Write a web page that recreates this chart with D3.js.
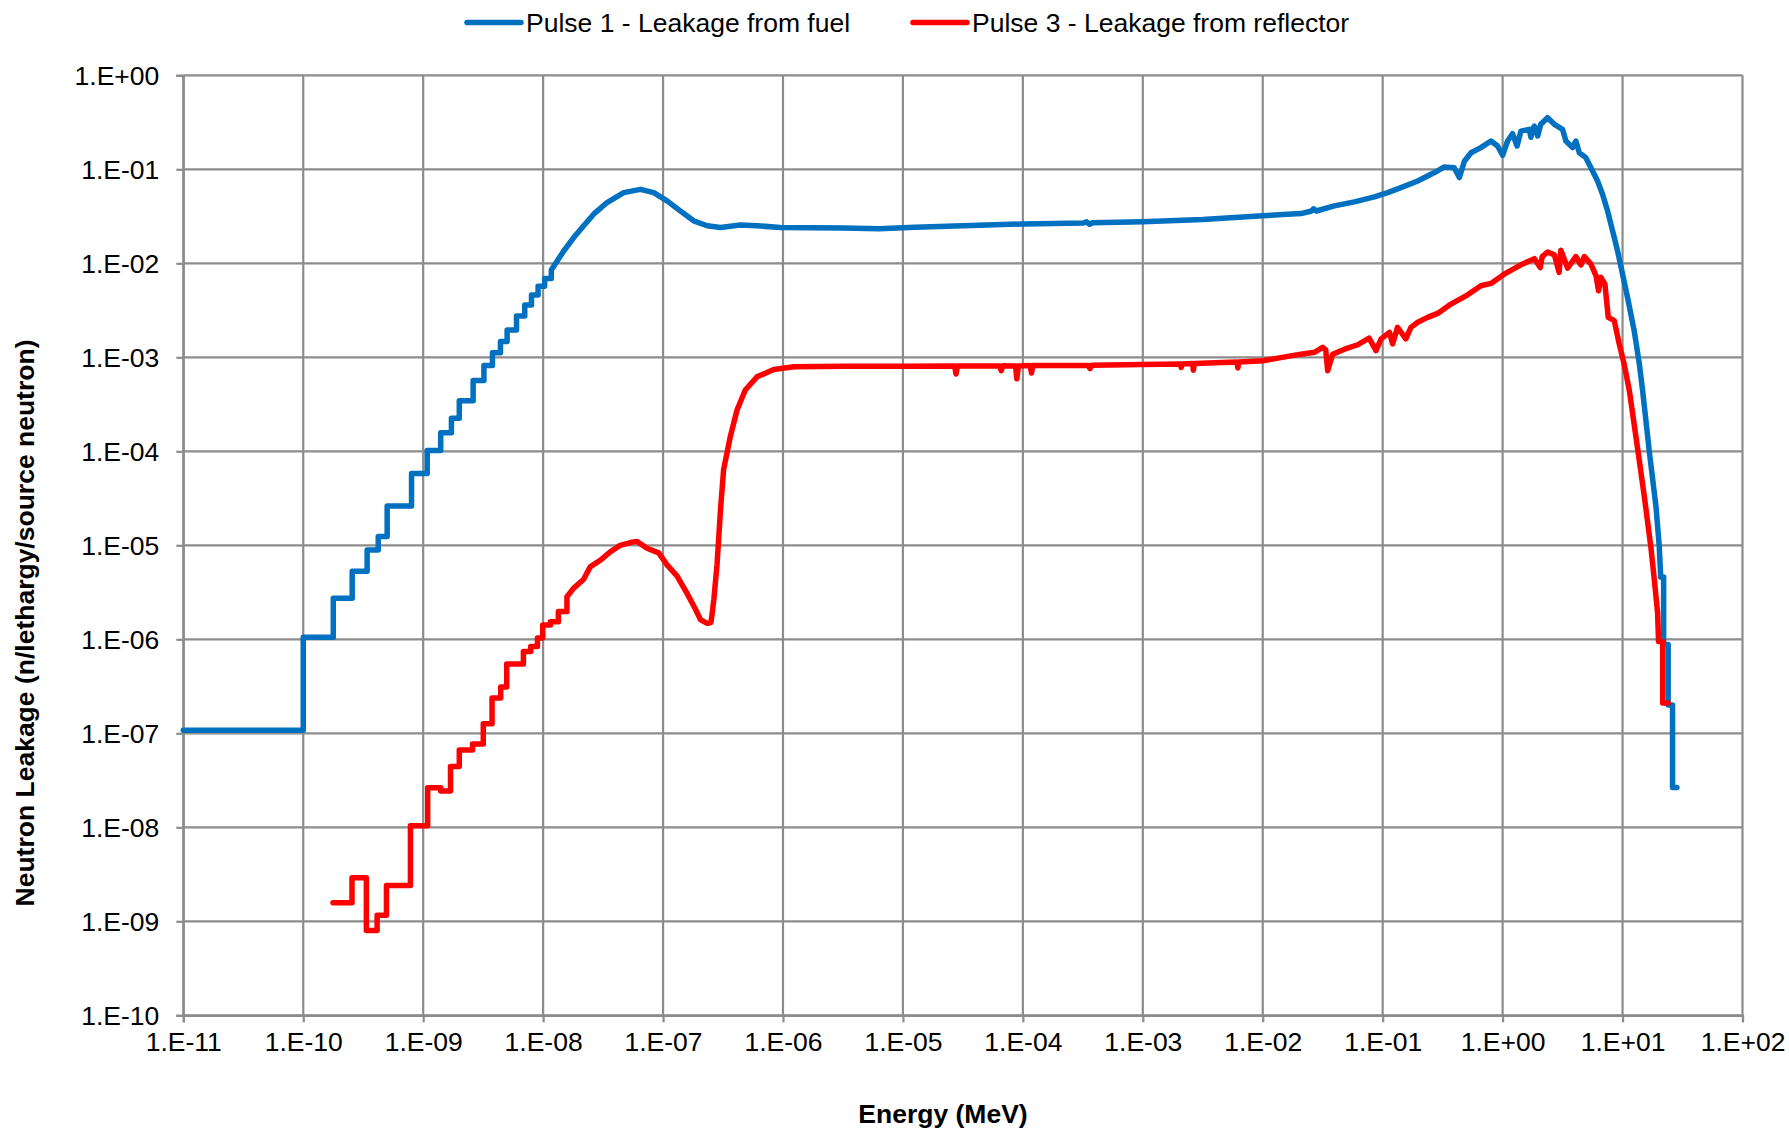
<!DOCTYPE html>
<html>
<head>
<meta charset="utf-8">
<script src="https://cdn.jsdelivr.net/npm/d3@7"></script>
<style>
    body { margin: 0; background: white; }
    text { font-family: "Liberation Sans", Arial, sans-serif; }
</style>
</head>
<body>
<div id="chart"></div>
<script>

// axis ticks
const energyTicks = [1e-11, 1e-10, 1e-9, 1e-8, 1e-7, 1e-6, 1e-5, 1e-4, 1e-3, 1e-2, 1e-1, 1e0, 1e1, 1e2];
const energyTickLabels = ["1.E-11", "1.E-10", "1.E-09", "1.E-08", "1.E-07", "1.E-06", "1.E-05", "1.E-04", "1.E-03", "1.E-02", "1.E-01", "1.E+00", "1.E+01", "1.E+02"];
const leakageTicks = [1e-10, 1e-9, 1e-8, 1e-7, 1e-6, 1e-5, 1e-4, 1e-3, 1e-2, 1e-1, 1e0];
const leakageTickLabels = ["1.E-10", "1.E-09", "1.E-08", "1.E-07", "1.E-06", "1.E-05", "1.E-04", "1.E-03", "1.E-02", "1.E-01", "1.E+00"];

const seriesNames = ["Pulse 1 - Leakage from fuel", "Pulse 3 - Leakage from reflector"];

// Pulse 1 - low energy histogram bins (edges + values)
const pulse1StepEdges = [1e-11, 1e-10, 1.78e-10, 2.56e-10, 3.41e-10, 4.22e-10, 5.01e-10, 8.0e-10, 1.08e-9, 1.40e-9, 1.72e-9, 2.0e-9, 2.61e-9, 3.21e-9, 3.78e-9, 4.41e-9, 5.01e-9, 6.0e-9, 7.03e-9, 8.0e-9, 9.08e-9, 1.03e-8, 1.17e-8];
const pulse1StepValues = [1.08e-7, 1.05e-6, 2.73e-6, 5.3e-6, 8.9e-6, 1.24e-5, 2.62e-5, 5.8e-5, 1.02e-4, 1.58e-4, 2.25e-4, 3.46e-4, 5.65e-4, 8.2e-4, 1.12e-3, 1.47e-3, 1.95e-3, 2.75e-3, 3.6e-3, 4.6e-3, 5.7e-3, 6.9e-3];

// Pulse 1 - fine bins [energy, leakage]
const pulse1Curve = [
    [1.17e-8, 8.5e-3], [1.49e-8, 1.36e-2], [1.80e-8, 1.88e-2], [2.18e-8, 2.51e-2], [2.64e-8, 3.33e-2],
    [3.41e-8, 4.43e-2], [4.70e-8, 5.65e-2], [6.47e-8, 6.12e-2], [8.36e-8, 5.65e-2], [1.08e-7, 4.61e-2],
    [1.39e-7, 3.61e-2], [1.80e-7, 2.83e-2], [2.33e-7, 2.51e-2], [3.01e-7, 2.40e-2], [4.41e-7, 2.55e-2],
    [6.07e-7, 2.51e-2], [9.5e-7, 2.40e-2], [3.16e-6, 2.37e-2], [6.3e-6, 2.33e-2], [1.26e-5, 2.42e-2],
    [3.16e-5, 2.51e-2], [1e-4, 2.62e-2], [3.2e-4, 2.69e-2], [3.4e-4, 2.76e-2], [3.6e-4, 2.6e-2],
    [3.8e-4, 2.7e-2], [1e-3, 2.77e-2], [3.16e-3, 2.92e-2], [1e-2, 3.21e-2], [2.08e-2, 3.38e-2],
    [2.55e-2, 3.6e-2], [2.65e-2, 3.8e-2], [2.8e-2, 3.6e-2], [3.95e-2, 4.08e-2], [5.81e-2, 4.50e-2],
    [8.53e-2, 5.08e-2], [0.110, 5.65e-2], [0.142, 6.38e-2], [0.196, 7.52e-2], [0.270, 9.23e-2],
    [0.327, 0.106], [0.395, 0.104], [0.436, 0.0817], [0.480, 0.122], [0.545, 0.150],
    [0.659, 0.170], [0.80, 0.20], [0.908, 0.177], [1.0, 0.141], [1.10, 0.20],
    [1.21, 0.239], [1.32, 0.177], [1.42, 0.255], [1.67, 0.266], [1.72, 0.219],
    [1.78, 0.266], [1.84, 0.288], [1.96, 0.226], [2.08, 0.301], [2.37, 0.354],
    [2.70, 0.301], [3.16, 0.266], [3.37, 0.20], [3.83, 0.170], [4.08, 0.20],
    [4.36, 0.150], [4.94, 0.133], [5.45, 0.104], [6.19, 0.0752], [6.81, 0.0543],
    [7.50, 0.0361], [8.26, 0.0221], [9.08, 0.0136], [10.0, 7.67e-3], [11.0, 4.34e-3],
    [12.5, 1.92e-3], [13.8, 8.5e-4], [14.7, 4.43e-4], [16.7, 1e-4], [19.0, 2.57e-5],
    [20.2, 1e-5]
];
const pulse1TailEdges = [20.8, 22.0, 24.0, 26.1, 28.4];
const pulse1TailValues = [4.6e-6, 8.8e-7, 2.0e-7, 2.65e-8];

// Pulse 3 - low energy histogram bins
const pulse3StepEdges = [1.77e-10, 2.55e-10, 3.36e-10, 4.13e-10, 4.94e-10, 7.83e-10, 1.09e-9, 1.40e-9, 1.69e-9, 2.0e-9, 2.58e-9, 3.17e-9, 3.75e-9, 4.43e-9, 4.97e-9, 6.85e-9, 7.89e-9, 8.97e-9, 9.93e-9, 1.15e-8, 1.34e-8, 1.58e-8];
const pulse3StepValues = [1.58e-9, 2.9e-9, 8.0e-10, 1.16e-9, 2.41e-9, 1.04e-8, 2.63e-8, 2.43e-8, 4.43e-8, 6.64e-8, 7.7e-8, 1.26e-7, 2.37e-7, 3.1e-7, 5.45e-7, 7.4e-7, 8.4e-7, 1.03e-6, 1.42e-6, 1.54e-6, 1.97e-6];

// Pulse 3 - fine bins [energy, leakage]
const pulse3Curve = [
    [1.58e-8, 2.84e-6], [1.79e-8, 3.48e-6], [2.17e-8, 4.33e-6], [2.47e-8, 5.89e-6], [2.99e-8, 6.93e-6],
    [3.63e-8, 8.51e-6], [4.40e-8, 1.0e-5], [5.33e-8, 1.07e-5], [6.07e-8, 1.10e-5], [7.35e-8, 9.3e-6],
    [9.2e-8, 8.3e-6], [1.08e-7, 6.2e-6], [1.31e-7, 4.7e-6], [1.58e-7, 3.1e-6], [1.86e-7, 2.1e-6],
    [2.05e-7, 1.62e-6], [2.33e-7, 1.48e-6], [2.51e-7, 1.51e-6], [2.65e-7, 2.63e-6], [2.82e-7, 6.3e-6],
    [3.02e-7, 2.5e-5], [3.2e-7, 6.4e-5], [3.64e-7, 1.44e-4], [4.14e-7, 2.75e-4], [4.85e-7, 4.49e-4],
    [6.07e-7, 6.2e-4], [8.36e-7, 7.41e-4], [1.23e-6, 7.92e-4], [3.16e-6, 8.05e-4], [1e-5, 8.05e-4],
    [2.7e-5, 8.1e-4], [2.77e-5, 6.65e-4], [2.85e-5, 8.1e-4], [6.4e-5, 8.1e-4], [6.6e-5, 7.2e-4],
    [6.8e-5, 8.15e-4], [8.7e-5, 8.1e-4], [8.9e-5, 5.9e-4], [9.2e-5, 8.1e-4], [1.15e-4, 8.2e-4],
    [1.18e-4, 6.8e-4], [1.21e-4, 8.2e-4], [3.5e-4, 8.2e-4], [3.63e-4, 7.6e-4], [3.75e-4, 8.25e-4],
    [1e-3, 8.36e-4], [2.05e-3, 8.5e-4], [2.09e-3, 7.8e-4], [2.13e-3, 8.5e-4], [2.6e-3, 8.6e-4],
    [2.64e-3, 7.3e-4], [2.69e-3, 8.6e-4], [6.1e-3, 8.9e-4], [6.2e-3, 7.7e-4], [6.3e-3, 8.9e-4],
    [1e-2, 9.2e-4], [2.08e-2, 1.08e-3], [2.7e-2, 1.13e-3], [3.16e-2, 1.28e-3], [3.35e-2, 1.2e-3],
    [3.48e-2, 7.2e-4], [3.83e-2, 1.08e-3], [4.8e-2, 1.22e-3], [6.2e-2, 1.36e-3], [7.7e-2, 1.60e-3],
    [8.8e-2, 1.18e-3], [9.7e-2, 1.57e-3], [0.114, 1.84e-3], [0.121, 1.39e-3], [0.133, 2.08e-3],
    [0.156, 1.57e-3], [0.172, 2.08e-3], [0.196, 2.36e-3], [0.237, 2.66e-3], [0.287, 2.93e-3],
    [0.371, 3.68e-3], [0.511, 4.62e-3], [0.659, 5.77e-3], [0.80, 6.11e-3], [1.03, 7.67e-3],
    [1.42, 9.64e-3], [1.84, 1.12e-2], [2.06, 9.0e-3], [2.14, 1.18e-2], [2.37, 1.32e-2],
    [2.70, 1.23e-2], [2.96, 8.0e-3], [3.06, 1.38e-2], [3.48, 8.9e-3], [4.08, 1.18e-2],
    [4.50, 9.6e-3], [4.80, 1.18e-2], [5.45, 9.8e-3], [6.0, 7.4e-3], [6.31, 5.1e-3],
    [6.59, 7.1e-3], [7.13, 6.0e-3], [7.60, 2.66e-3], [8.53, 2.45e-3], [9.38, 1.39e-3],
    [10.3, 8.5e-4], [11.4, 4.4e-4], [13.3, 1.11e-4], [15.2, 3.28e-5], [17.2, 9.7e-6],
    [18.4, 4.3e-6], [19.6, 1.9e-6]
];
const pulse3TailEdges = [19.95, 21.6, 24.0];
const pulse3TailValues = [9.5e-7, 2.1e-7];

const seriesColors = ["#0070C0", "#FF0000"];

// turn histogram edges + values into step points
function stepPoints(edges, values) {
    const pts = [];
    values.forEach((v, i) => {
        pts.push([edges[i], v]);
        pts.push([edges[i + 1], v]);
    });
    return pts;
}

const pulse1 = stepPoints(pulse1StepEdges, pulse1StepValues)
    .concat(pulse1Curve)
    .concat(stepPoints(pulse1TailEdges, pulse1TailValues));
const pulse3 = stepPoints(pulse3StepEdges, pulse3StepValues)
    .concat(pulse3Curve)
    .concat(stepPoints(pulse3TailEdges, pulse3TailValues));

const widthSvg = 1789, heightSvg = 1130;
const plotLeft = 183.3, plotRight = 1742.5, plotTop = 75.3, plotBottom = 1015.3;
const fontSize = "26.5px";

const xScale = d3.scaleLog().domain([1e-11, 1e2]).range([plotLeft, plotRight]);
const yScale = d3.scaleLog().domain([1e-10, 1]).range([plotBottom, plotTop]);

const svg = d3.select("#chart").append("svg")
    .attr("width", widthSvg).attr("height", heightSvg);

// grid
const gridColor = "#8c8c8c";
svg.append("g").selectAll("line")
    .data(energyTicks)
    .enter().append("line")
    .attr("x1", d => xScale(d)).attr("x2", d => xScale(d))
    .attr("y1", plotTop).attr("y2", plotBottom)
    .attr("stroke", gridColor).attr("stroke-width", 2.2);

svg.append("g").selectAll("line")
    .data(leakageTicks)
    .enter().append("line")
    .attr("x1", plotLeft).attr("x2", plotRight)
    .attr("y1", d => yScale(d)).attr("y2", d => yScale(d))
    .attr("stroke", gridColor).attr("stroke-width", 2.2);

// axes
const xAxis = svg.append("g")
    .attr("transform", `translate(0, ${plotBottom})`)
    .call(d3.axisBottom(xScale)
        .tickValues(energyTicks)
        .tickFormat((d, i) => energyTickLabels[i])
        .tickSize(7).tickPadding(10));

const yAxis = svg.append("g")
    .attr("transform", `translate(${plotLeft}, 0)`)
    .call(d3.axisLeft(yScale)
        .tickValues(leakageTicks)
        .tickFormat((d, i) => leakageTickLabels[i])
        .tickSize(7).tickPadding(17));

[xAxis, yAxis].forEach(ax => {
    ax.select(".domain").attr("stroke", gridColor).attr("stroke-width", 2.2);
    ax.selectAll(".tick line").attr("stroke", gridColor).attr("stroke-width", 2.2);
    ax.selectAll(".tick text")
        .attr("fill", "#000")
        .style("font-size", fontSize)
        .style("font-family", "'Liberation Sans', Arial, sans-serif");
});
yAxis.selectAll(".tick text").attr("dy", "0.34em");

// series
const line = d3.line()
    .x(d => xScale(d[0]))
    .y(d => yScale(d[1]));

[pulse1, pulse3].forEach((series, i) => {
    svg.append("path")
        .datum(series)
        .attr("fill", "none")
        .attr("stroke", seriesColors[i])
        .attr("stroke-width", 5.5)
        .attr("stroke-linejoin", "round")
        .attr("stroke-linecap", "round")
        .attr("d", line);
});

// axis titles
svg.append("text")
    .text("Energy (MeV)")
    .attr("x", 943).attr("y", 1123)
    .attr("text-anchor", "middle")
    .style("font-size", fontSize)
    .style("font-weight", "bold");

svg.append("text")
    .text("Neutron Leakage (n/lethargy/source neutron)")
    .attr("transform", "translate(34, 623) rotate(-90)")
    .attr("text-anchor", "middle")
    .style("font-size", fontSize)
    .style("font-weight", "bold");

// legend
const legendX = [467, 913];
const legend = svg.append("g");
seriesNames.forEach((name, i) => {
    legend.append("line")
        .attr("x1", legendX[i]).attr("x2", legendX[i] + 54)
        .attr("y1", 22.5).attr("y2", 22.5)
        .attr("stroke", seriesColors[i])
        .attr("stroke-width", 5.5)
        .attr("stroke-linecap", "round");
    legend.append("text")
        .text(name)
        .attr("x", legendX[i] + 59).attr("y", 31.5)
        .style("font-size", fontSize);
});

</script>
</body>
</html>
